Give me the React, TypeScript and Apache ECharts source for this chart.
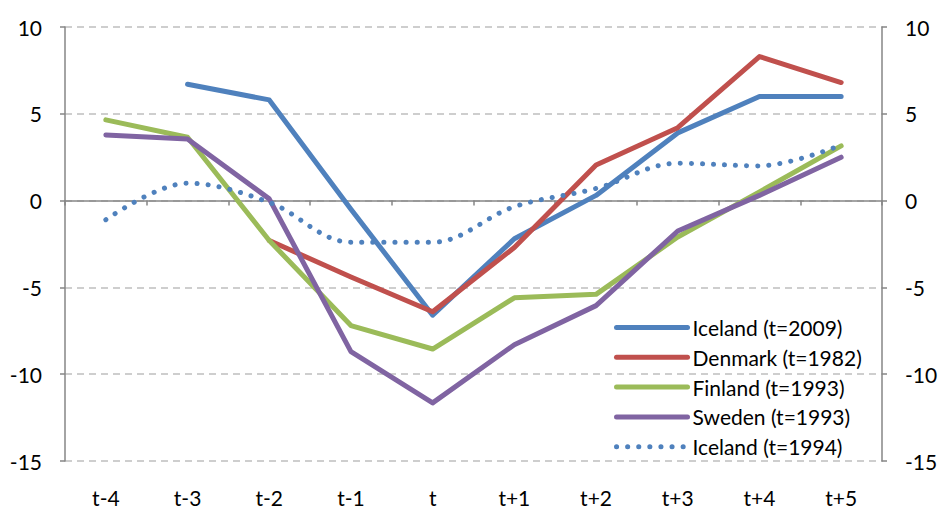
import React, { useEffect, useRef } from "react";
import * as echarts from "echarts";

const categories = ["t-4", "t-3", "t-2", "t-1", "t", "t+1", "t+2", "t+3", "t+4", "t+5"];
const iceland2009 = [null, 6.7, 5.8, -0.5, -6.6, -2.2, 0.3, 3.9, 6.0, 6.0];
const denmark1982 = [null, null, -2.3, -4.4, -6.4, -2.7, 2.05, 4.2, 8.3, 6.8];
const finland1993 = [4.65, 3.65, -2.3, -7.2, -8.55, -5.6, -5.4, -2.1, 0.5, 3.15];
const sweden1993 = [3.78, 3.55, 0.1, -8.7, -11.65, -8.3, -6.05, -1.75, 0.3, 2.5];
const iceland1994 = [-1.1, 1.0, -0.1, -2.4, -2.4, -0.35, 0.7, 2.15, 2.0, 3.2];
const seriesNames = ["Iceland (t=2009)", "Denmark (t=1982)", "Finland (t=1993)", "Sweden (t=1993)", "Iceland (t=1994)"];
const colors = ["#4F81BD", "#C0504D", "#9BBB59", "#8064A2", "#4F81BD"];

const FONT = "Lato, 'Open Sans', sans-serif";
const FS = 21;

export default function App() {
  const ref = useRef<HTMLDivElement>(null);
  useEffect(() => {
    if (!ref.current) return;
    const chart = echarts.init(ref.current, undefined, { renderer: "svg" });
    const datasets = [iceland2009, denmark1982, finland1993, sweden1993, iceland1994];
    const yAxisBase = {
      type: "value",
      min: -15,
      max: 10,
      interval: 5,
      axisLine: { show: true, lineStyle: { color: "#868686", width: 1.5 } },
      axisTick: { show: true, length: 5, lineStyle: { color: "#868686", width: 1.5 } },
      axisLabel: { color: "#000", fontSize: FS, fontFamily: FONT },
    };
    chart.setOption({
      animation: false,
      backgroundColor: "#fff",
      grid: { left: 65, right: 59, top: 27, bottom: 49, containLabel: false },
      legend: {
        orient: "vertical",
        left: 614,
        top: 317,
        padding: 0,
        itemWidth: 71,
        itemHeight: 14,
        itemGap: 8.8,
        itemStyle: { opacity: 0 },
        lineStyle: { width: 5, cap: "round" },
        textStyle: { color: "#000", fontSize: FS, fontFamily: FONT, lineHeight: 21 },
        data: seriesNames,
      },
      xAxis: [
        {
          type: "category",
          data: categories,
          boundaryGap: true,
          axisLine: { show: false, onZero: false },
          axisTick: { show: false },
          axisLabel: { color: "#000", fontSize: FS, fontFamily: FONT, margin: 26 },
        },
        {
          type: "category",
          data: categories,
          boundaryGap: true,
          position: "bottom",
          axisLine: { show: true, onZero: true, lineStyle: { color: "#868686", width: 1.5 } },
          axisTick: { show: true, length: 5, lineStyle: { color: "#868686", width: 1.5 } },
          axisLabel: { show: false },
        },
      ],
      yAxis: [
        {
          ...yAxisBase,
          position: "left",
          axisLabel: { ...yAxisBase.axisLabel, margin: 23 },
          splitLine: { show: true, lineStyle: { color: "#BFBFBF", type: [7, 5], width: 1.5 } },
        },
        {
          ...yAxisBase,
          position: "right",
          axisLabel: { ...yAxisBase.axisLabel, margin: 23 },
          splitLine: { show: false },
        },
      ],
      series: datasets.map((d, i) => ({
        name: seriesNames[i],
        type: "line",
        data: d,
        xAxisIndex: 0,
        yAxisIndex: 0,
        showSymbol: false,
        symbol: "none",
        smooth: i === 4 ? 0.35 : false,
        connectNulls: false,
        color: colors[i],
        lineStyle:
          i === 4
            ? { color: colors[i], width: 5, type: [0.1, 11], cap: "round", join: "round" }
            : { color: colors[i], width: 5, cap: "round", join: "round" },
      })),
    });
    return () => chart.dispose();
  }, []);
  return <div ref={ref} style={{ width: 941, height: 510, position: "absolute", left: 0, top: 0 }} />;
}
